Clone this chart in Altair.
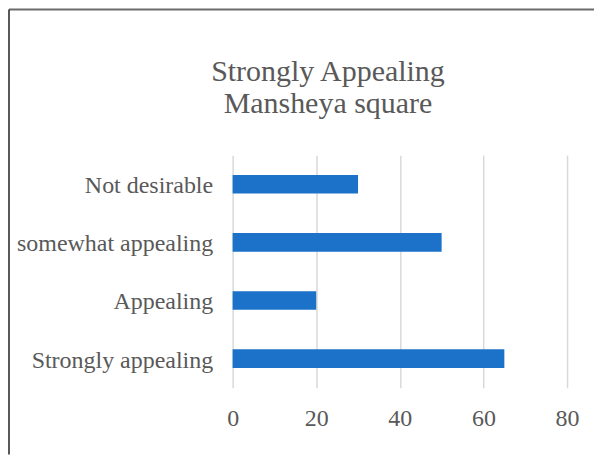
import altair as alt
import pandas as pd

categories = ["Not desirable", "somewhat appealing", "Appealing", "Strongly appealing"]
values = [30, 50, 20, 65]
x_ticks = [0, 20, 40, 60, 80]
title_lines = ["Strongly Appealing", "Mansheya square"]

df = pd.DataFrame({"category": categories, "value": values})

FONT = "Liberation Serif"
TEXT = "#595959"

bars = alt.Chart(df).mark_bar(color="#1b72c8").encode(
    y=alt.Y(
        "category:N",
        sort=categories,
        scale=alt.Scale(paddingInner=0.68, paddingOuter=0.34),
        axis=alt.Axis(
            title=None, domain=False, ticks=False, grid=False,
            labelFont=FONT, labelFontSize=24, labelColor=TEXT,
            labelPadding=20, labelLimit=400, labelOffset=2,
        ),
    ),
    x=alt.X(
        "value:Q",
        scale=alt.Scale(domain=[0, 80], nice=False),
        axis=alt.Axis(
            title=None, values=x_ticks, domain=False, ticks=False, tickSize=0,
            grid=True, gridColor="#d9d9d9", gridWidth=1.5,
            labelFont=FONT, labelFontSize=24, labelColor=TEXT,
            labelPadding=19, labelFlush=False,
        ),
    ),
)

border_data = alt.Data(values=[{"b": 1}])
top_border = alt.Chart(border_data).mark_rule(color="#6b6b6b", strokeWidth=2).encode(
    x=alt.value(-224), x2=alt.value(362), y=alt.value(-146)
)
left_border = alt.Chart(border_data).mark_rule(color="#222222", strokeWidth=1.5).encode(
    x=alt.value(-224), y=alt.value(-146), y2=alt.value(300)
)

chart = alt.layer(bars, top_border, left_border).properties(
    width=335,
    height=233,
    padding=0,
    title=alt.TitleParams(
        text=title_lines,
        font=FONT,
        fontSize=30,
        fontWeight="normal",
        color=TEXT,
        anchor="middle",
        frame="group",
        dx=-72,
        offset=-111,
        lineHeight=32,
    ),
).configure_view(stroke=None)

chart.save("out.html", embed_options={"renderer": "svg", "actions": False})
